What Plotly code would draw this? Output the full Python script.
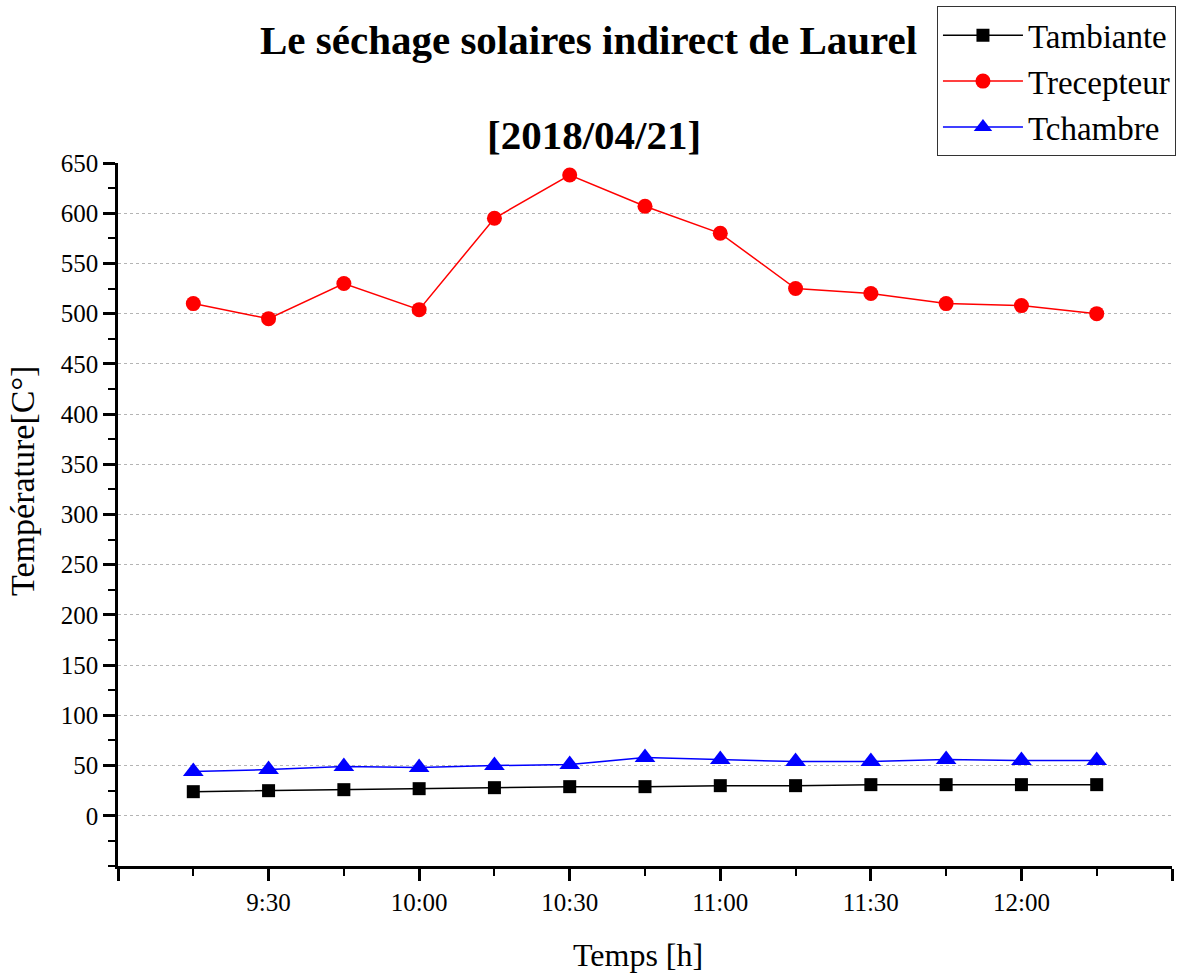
import plotly.graph_objects as go

# Measurement times (15 min steps) on 2018-04-21
heures = ["09:15", "09:30", "09:45", "10:00", "10:15", "10:30", "10:45",
          "11:00", "11:15", "11:30", "11:45", "12:00", "12:15"]

# Temperatures [°C]
t_ambiante = [24, 25, 26, 27, 28, 29, 29, 30, 30, 31, 31, 31, 31]
t_recepteur = [510, 495, 530, 504, 595, 638, 607, 580, 525, 520, 510, 508, 500]
t_chambre = [44, 46, 49, 48, 50, 51, 58, 56, 54, 54, 56, 55, 55]

# Axis ticks
x_ticks = ["09:00", "09:30", "10:00", "10:30", "11:00", "11:30", "12:00", "12:30"]
x_ticklabels = ["", "9:30", "10:00", "10:30", "11:00", "11:30", "12:00", ""]
y_ticks = list(range(0, 651, 50))
y_grid = list(range(0, 601, 50))

JOUR = "2018-04-21 "
x = [JOUR + h for h in heures]

SERIF = "Liberation Serif"

fig = go.Figure()

# Invisible trace carrying the dotted grid axis (drawn first, below the data)
fig.add_trace(go.Scatter(x=[x[0]], y=[0], yaxis="y2", mode="markers",
                         marker=dict(opacity=0), showlegend=False,
                         hoverinfo="skip"))

fig.add_trace(go.Scatter(
    x=x, y=t_ambiante, name="Tambiante", mode="lines+markers",
    legendgroup="a",
    line=dict(color="black", width=1.5),
    marker=dict(symbol="square", size=13, color="black"),
))
fig.add_trace(go.Scatter(
    x=x, y=t_recepteur, name="Trecepteur", mode="lines+markers",
    legendgroup="b",
    line=dict(color="#ff0000", width=1.5),
    marker=dict(symbol="circle", size=15, color="#ff0000"),
))
fig.add_trace(go.Scatter(
    x=x, y=t_chambre, name="Tchambre", mode="lines+markers",
    legendgroup="c",
    line=dict(color="#0000ff", width=1.5),
    marker=dict(symbol="triangle-up", size=18, color="#0000ff"),
))

fig.update_layout(
    width=1178, height=974,
    paper_bgcolor="white", plot_bgcolor="white",
    margin=dict(l=118, r=6, t=163, b=108, autoexpand=False),
    font=dict(family=SERIF, color="black"),
    showlegend=True,
    legend=dict(
        x=0.777, y=1.223, xanchor="left", yanchor="top",
        bordercolor="#333333", borderwidth=1, bgcolor="white",
        font=dict(family=SERIF, size=33, color="black"),
        tracegroupgap=0, itemwidth=80,
    ),
    xaxis=dict(
        type="date",
        range=[JOUR + "09:00", JOUR + "12:30"],
        tickvals=[JOUR + t for t in x_ticks],
        ticktext=x_ticklabels,
        ticks="outside", ticklen=12, tickwidth=2.5, tickcolor="black",
        minor=dict(dtick=15 * 60 * 1000, ticks="outside", ticklen=7,
                   tickwidth=2, tickcolor="black", showgrid=False),
        showline=True, linecolor="black", linewidth=2.5,
        showgrid=False, zeroline=False,
        tickfont=dict(family=SERIF, size=25, color="black"),
    ),
    yaxis=dict(
        range=[-50, 650],
        tickvals=y_ticks,
        ticks="outside", ticklen=12, tickwidth=2.5, tickcolor="black",
        minor=dict(dtick=25, tick0=-25, ticks="outside", ticklen=7,
                   tickwidth=2, tickcolor="black", showgrid=False),
        showline=True, linecolor="black", linewidth=2.5,
        showgrid=False, zeroline=False,
        tickfont=dict(family=SERIF, size=25, color="black"),
    ),
    yaxis2=dict(
        overlaying="y", range=[-50, 650],
        tickvals=y_grid, showticklabels=False, ticks="",
        showgrid=True, gridcolor="#b4b4b4", griddash="dot", gridwidth=1,
        showline=False, zeroline=False,
    ),
    annotations=[
        dict(text="<b>Le séchage solaires indirect de Laurel</b>",
             xref="paper", yref="paper", x=0.446, y=1.175,
             xanchor="center", yanchor="middle", showarrow=False,
             font=dict(family=SERIF, size=41, color="black")),
        dict(text="<b>[2018/04/21]</b>",
             xref="paper", yref="paper", x=0.452, y=1.04,
             xanchor="center", yanchor="middle", showarrow=False,
             font=dict(family=SERIF, size=41, color="black")),
        # Axis titles
        dict(text="Temps [h]",
             xref="paper", yref="paper", x=0.493, y=-0.126,
             xanchor="center", yanchor="middle", showarrow=False,
             font=dict(family=SERIF, size=32, color="black")),
        dict(text="Température[C°]", textangle=-90,
             xref="paper", yref="paper", x=-0.09, y=0.548,
             xanchor="center", yanchor="middle", showarrow=False,
             font=dict(family=SERIF, size=34, color="black")),
    ],
)

fig.write_html("out.html")
